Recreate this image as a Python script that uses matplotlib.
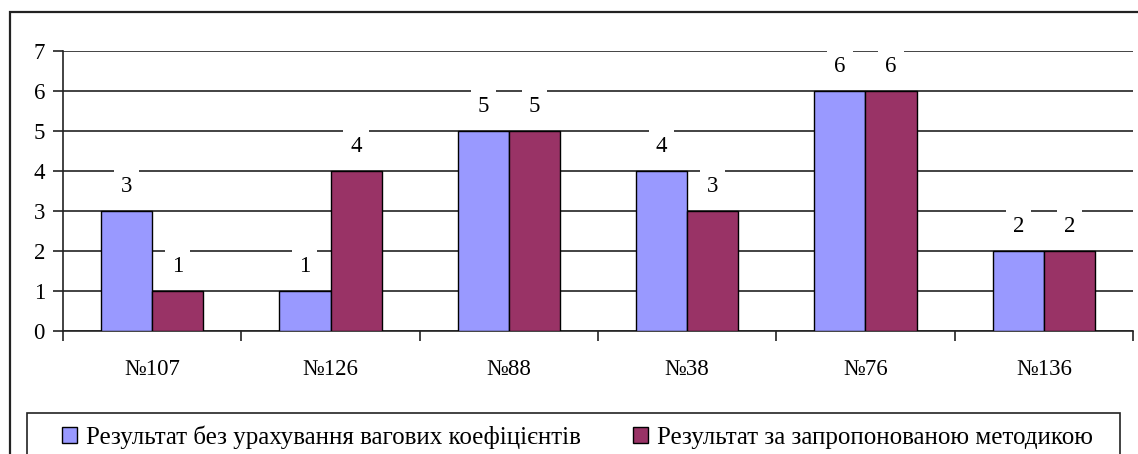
import matplotlib
matplotlib.use('Agg')
import matplotlib.pyplot as plt
from matplotlib.patches import Rectangle, Patch
import numpy as np

plt.rcParams['font.family'] = ['Liberation Serif', 'DejaVu Serif']

# data
categories = ['№107', '№126', '№88', '№38', '№76', '№136']
without_weights = [3, 1, 5, 4, 6, 2]
proposed_method = [1, 4, 5, 3, 6, 2]
series_names = ['Результат без урахування вагових коефіцієнтів',
                'Результат за запропонованою методикою']

W, H = 1138, 454
fig = plt.figure(figsize=(W / 100, H / 100), dpi=100)
ax = fig.add_axes([63 / W, 1 - 331 / H, (1133 - 63) / W, (331 - 51) / H])

x = np.arange(len(categories))
bw = 0.286
b1 = ax.bar(x - bw / 2, without_weights, bw, color='#9999FF', edgecolor='black', linewidth=1, zorder=3)
b2 = ax.bar(x + bw / 2, proposed_method, bw, color='#993366', edgecolor='black', linewidth=1, zorder=3)

# value labels with white box that cuts the gridline
for bars, vals in [(b1, without_weights), (b2, proposed_method)]:
    for rect, v in zip(bars, vals):
        ax.annotate(str(v), (rect.get_x() + rect.get_width() / 2, v),
                    xytext=(0, 24), textcoords='offset pixels',
                    ha='center', va='center', fontsize=16.5, zorder=4,
                    bbox=dict(boxstyle='square,pad=0.3', fc='white', ec='none'))

ax.set_xlim(-0.5, len(categories) - 0.5)
ax.set_ylim(0, 7)
ax.set_yticks(range(0, 8))
ax.yaxis.grid(True, color='#222222', linewidth=1.2, zorder=1)
ax.set_axisbelow(True)

ax.set_xticks(x)
ax.set_xticklabels(categories, fontsize=16.5)
ax.set_xticks(np.arange(-0.5, len(categories)), minor=True)
ax.tick_params(axis='x', which='major', length=0, pad=20)
ax.tick_params(axis='x', which='minor', length=7, width=1.2, color='#222222')
ax.tick_params(axis='y', length=7, width=1.2, color='#222222', labelsize=16.5, pad=6)

for s in ['top', 'right']:
    ax.spines[s].set_visible(False)
for s in ['left', 'bottom']:
    ax.spines[s].set_color('#222222')
    ax.spines[s].set_linewidth(1.2)

# outer frame (runs past right and bottom edges)
fig.patches.append(Rectangle((10 / W, -0.2), 1.2, 1 - 12 / H + 0.2,
                             transform=fig.transFigure, fill=False,
                             edgecolor='#222222', linewidth=1.6))
# legend frame (runs past bottom edge)
fig.patches.append(Rectangle((27 / W, -0.2), (1120 - 27) / W, 1 - 413 / H + 0.2,
                             transform=fig.transFigure, fill=False,
                             edgecolor='#222222', linewidth=1.2))

handles = [Patch(facecolor='#9999FF', edgecolor='black', linewidth=1),
           Patch(facecolor='#993366', edgecolor='black', linewidth=1)]
leg = fig.legend(handles, series_names, loc='center left', ncol=2,
                 bbox_to_anchor=(62 / W, 1 - 437 / H),
                 fontsize=18, frameon=False,
                 handlelength=0.6, handleheight=0.6,
                 handletextpad=0.35, borderpad=0, borderaxespad=0,
                 columnspacing=2.1)

fig.savefig('out.png', dpi=100, facecolor='white')
